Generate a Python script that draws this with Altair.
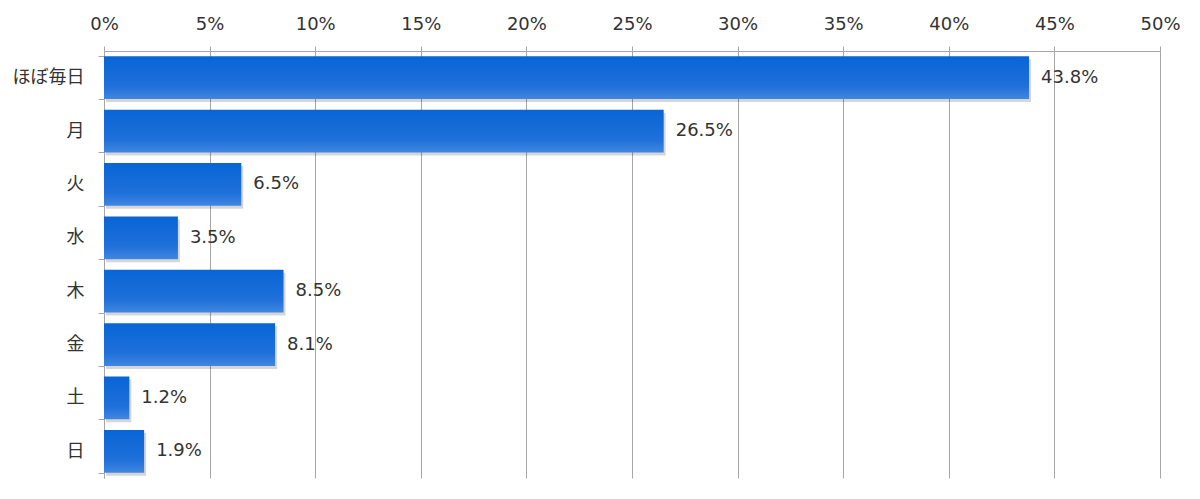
import altair as alt
import pandas as pd

categories = ["ほぼ毎日", "月", "火", "水", "木", "金", "土", "日"]
values = [43.8, 26.5, 6.5, 3.5, 8.5, 8.1, 1.2, 1.9]
labels = ["43.8%", "26.5%", "6.5%", "3.5%", "8.5%", "8.1%", "1.2%", "1.9%"]
x_ticks = [0, 5, 10, 15, 20, 25, 30, 35, 40, 45, 50]

df = pd.DataFrame({"cat": categories, "value": values, "label": labels})

grid_col = "#a6a6a6"
txt_col = "#333333"

x_enc = alt.X(
    "value:Q",
    scale=alt.Scale(domain=[0, 50], nice=False),
    axis=alt.Axis(
        orient="top", values=x_ticks, labelExpr="datum.value + '%'",
        grid=True, gridColor=grid_col, gridWidth=1,
        domainColor=grid_col, tickColor=grid_col, tickSize=5,
        labelFont="DejaVu Sans", labelFontSize=18, labelColor=txt_col,
        labelPadding=13, labelFlush=False, title=None,
    ),
)
y_enc = alt.Y(
    "cat:N", sort=categories,
    scale=alt.Scale(paddingInner=0.2, paddingOuter=0.1),
    axis=alt.Axis(
        tickBand="extent", tickSize=6, tickColor=grid_col, domainColor=grid_col,
        labelFont="Noto Sans CJK JP", labelFontSize=18, labelColor=txt_col,
        labelPadding=14, title=None, grid=False,
    ),
)

base = alt.Chart(df)

shadow = base.mark_bar(color="#000000", opacity=0.16, xOffset=2, yOffset=3).encode(
    x=x_enc, y=y_enc
)

gradient = {
    "gradient": "linear", "x1": 0, "y1": 0, "x2": 0, "y2": 1,
    "stops": [
        {"offset": 0, "color": "#0865d6"},
        {"offset": 0.7, "color": "#1f70da"},
        {"offset": 1, "color": "#4286e0"},
    ],
}
bars = base.mark_bar(color=gradient).encode(x=x_enc, y=y_enc)

text = base.mark_text(
    align="left", baseline="middle", dx=12, font="DejaVu Sans", fontSize=18, color=txt_col
).encode(x=x_enc, y=y_enc, text="label:N")

chart = (
    alt.layer(shadow, bars, text)
    .properties(
        width=1056, height=427,
        background="white",
        autosize=alt.AutoSizeParams(type="none"),
        padding={"left": 96, "top": 43, "right": 30, "bottom": 10},
    )
    .configure_view(stroke=None, strokeWidth=0)
)

chart.save("out.html", embed_options={"renderer": "svg", "actions": False})
